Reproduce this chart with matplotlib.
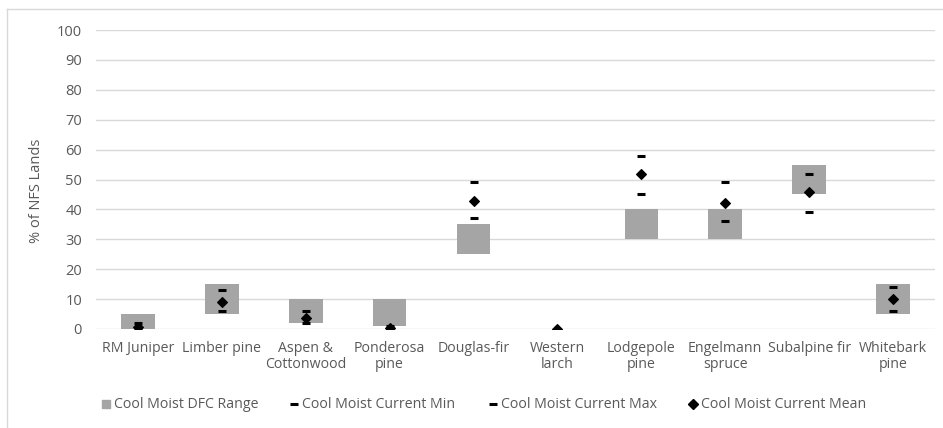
import matplotlib
matplotlib.use("Agg")
import numpy as np
from matplotlib import pyplot as plt
from matplotlib.lines import Line2D

plt.rcParams['font.family'] = ['Open Sans', 'DejaVu Sans']

# data
species = ["RM Juniper", "Limber pine", "Aspen &\nCottonwood", "Ponderosa\npine",
           "Douglas-fir", "Western\nlarch", "Lodgepole\npine", "Engelmann\nspruce",
           "Subalpine fir", "Whitebark\npine"]
dfc_low = [0, 5, 2, 1, 25, 0, 30, 30, 45, 5]
dfc_high = [5, 15, 10, 10, 35, 0, 40, 40, 55, 15]
cur_min = [0, 6, 2, 0, 37, np.nan, 45, 36, 39, 6]
cur_max = [2, 13, 6, 1, 49, np.nan, 58, 49, 52, 14]
cur_mean = [0.8, 9, 3.6, 0.3, 42.7, 0, 52, 42.2, 45.7, 10]

grey = '#A5A5A5'
txt = '#595959'

fig = plt.figure(figsize=(9.43, 4.28), dpi=100)
ax = fig.add_axes([96/943, 99/428, 839/943, 299/428])

x = np.arange(len(species))
heights = np.array(dfc_high) - np.array(dfc_low)
ax.bar(x, heights, bottom=dfc_low, width=0.4, color=grey, zorder=2)
ax.plot(x, cur_min, ls='none', marker='_', ms=6, mew=2.2, color='black', zorder=3)
ax.plot(x, cur_max, ls='none', marker='_', ms=6, mew=2.2, color='black', zorder=3)
ax.plot(x, cur_mean, ls='none', marker='D', ms=5, mew=0.8, color='black', zorder=4)

ax.set_xlim(-0.5, len(species) - 0.5)
ax.set_ylim(0, 100)
ax.set_yticks(np.arange(0, 101, 10))
ax.grid(axis='y', color='#D9D9D9', linewidth=1, zorder=0)
for s in ax.spines.values():
    s.set_visible(False)
ax.tick_params(length=0, labelsize=10.5, labelcolor=txt)
ax.tick_params(axis='y', pad=10)
ax.tick_params(axis='x', pad=9, labelsize=10.2)
ax.set_xticks(x)
ax.set_xticklabels(species, linespacing=1.05)
ax.set_ylabel("% of NFS Lands", fontsize=10.5, color=txt)
ax.yaxis.label.set_va('center')
ax.yaxis.set_label_coords((37 - 96) / 839, (329 - 191) / 299)

handles = [
    Line2D([], [], ls='none', marker='s', ms=6, color=grey),
    Line2D([], [], ls='none', marker='_', ms=6, mew=2.2, color='black'),
    Line2D([], [], ls='none', marker='_', ms=6, mew=2.2, color='black'),
    Line2D([], [], ls='none', marker='D', ms=5, color='black'),
]
labels = ["Cool Moist DFC Range", "Cool Moist Current Min",
          "Cool Moist Current Max", "Cool Moist Current Mean"]
starts = [102, 290, 489, 689]
for h, lab, sx in zip(handles, labels, starts):
    leg = fig.legend([h], [lab], loc='center left', bbox_to_anchor=(sx/943, 1 - 405/428),
                     frameon=False, fontsize=10.2, handlelength=0.6, handletextpad=0.25,
                     borderpad=0, borderaxespad=0)
    for t in leg.get_texts():
        t.set_color(txt)

# chart area border
fig.add_artist(Line2D([7/943, 7/943], [0, 1 - 9/428], color='#D9D9D9', lw=1))
fig.add_artist(Line2D([7/943, 1], [1 - 9/428, 1 - 9/428], color='#D9D9D9', lw=1))

fig.savefig("out.png", dpi=100)
